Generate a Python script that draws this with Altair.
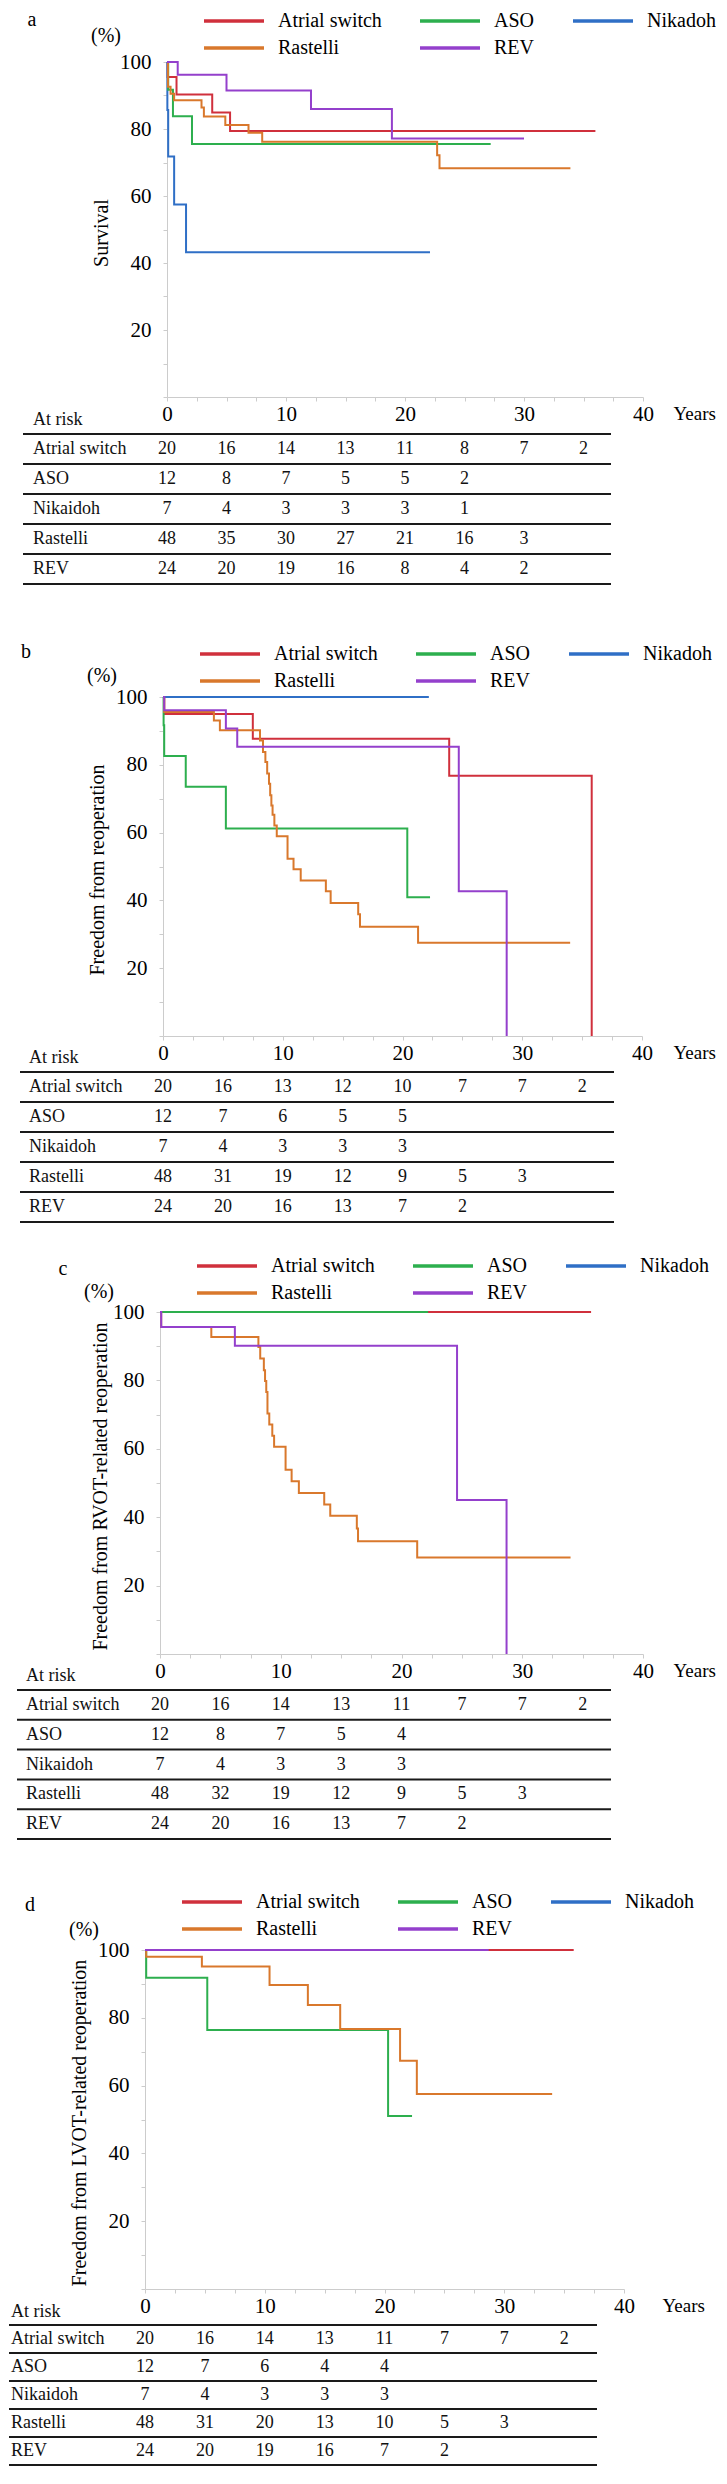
import altair as alt
import pandas as pd

FONT = "Liberation Serif"

# ---------------- series & colours ----------------
SERIES = ["Atrial switch", "ASO", "Nikadoh", "Rastelli", "REV"]
COLORS = ["#D0303C", "#2DAF4E", "#2F6FC6", "#D9782C", "#9440CC"]
DRAW_ORDER = ["Atrial switch", "Nikadoh", "ASO", "Rastelli", "REV"]

TABLE_ROWS = ["Atrial switch", "ASO", "Nikaidoh", "Rastelli", "REV"]
RISK_YEARS = [0, 5, 10, 15, 20, 25, 30, 35]

X_TICKS = [0, 2.5, 5, 7.5, 10, 12.5, 15, 17.5, 20, 22.5, 25, 27.5, 30, 32.5, 35, 37.5, 40]
Y_TICKS = [0, 10, 20, 30, 40, 50, 60, 70, 80, 90, 100]

# ---------------- panel a : survival ----------------
TIME_A = {
    "Atrial switch": [0, 0.05, 0.8, 3.8, 5.3, 36.0],
    "ASO": [0, 0.1, 0.5, 2.1, 27.2],
    "Nikadoh": [0, 0.03, 0.1, 0.6, 1.6, 22.1],
    "Rastelli": [0, 0.08, 0.3, 0.6, 2.9, 3.1, 4.9, 6.85, 8.0, 22.7, 22.9, 33.9],
    "REV": [0, 0.9, 5.0, 12.1, 18.9, 30.0],
}
SURV_A = {
    "Atrial switch": [100, 95.5, 90.3, 84.9, 79.4, 79.4],
    "ASO": [100, 91.7, 83.8, 75.5, 75.5],
    "Nikadoh": [100, 85.7, 71.8, 57.5, 43.2, 43.2],
    "Rastelli": [100, 92.6, 90.5, 88.6, 86.4, 83.7, 81.2, 78.9, 76.2, 72.2, 68.3, 68.3],
    "REV": [100, 96.2, 91.5, 86.0, 77.2, 77.2],
}
RISK_A = {
    "Atrial switch": [20, 16, 14, 13, 11, 8, 7, 2],
    "ASO": [12, 8, 7, 5, 5, 2],
    "Nikaidoh": [7, 4, 3, 3, 3, 1],
    "Rastelli": [48, 35, 30, 27, 21, 16, 3],
    "REV": [24, 20, 19, 16, 8, 4, 2],
}

# ---------------- panel b : freedom from reoperation ----------------
TIME_B = {
    "Atrial switch": [0, 0.1, 7.5, 23.9, 35.8],
    "ASO": [0, 0.05, 0.1, 1.9, 5.25, 20.4, 22.3],
    "Nikadoh": [0, 22.2],
    "Rastelli": [0, 0.1, 4.25, 4.75, 8.1, 8.35, 8.55, 8.7, 8.85, 8.95, 9.05, 9.15, 9.3,
                 9.5, 10.4, 10.9, 11.5, 13.6, 14.0, 16.3, 16.45, 21.3, 34.0],
    "REV": [0, 0.1, 5.25, 6.2, 24.7, 28.7],
}
SURV_B = {
    "Atrial switch": [100, 95.0, 87.7, 76.8, 0],
    "ASO": [100, 91.7, 82.6, 73.5, 61.2, 40.9, 40.9],
    "Nikadoh": [100, 100],
    "Rastelli": [100, 95.6, 93.1, 90.2, 87.2, 83.8, 80.8, 77.4, 74.4, 71.0, 68.0, 65.3, 62.1,
                 58.9, 52.3, 49.2, 45.9, 42.7, 39.2, 35.9, 32.2, 27.5, 27.5],
    "REV": [100, 96.1, 90.7, 85.3, 42.7, 0],
}
RISK_B = {
    "Atrial switch": [20, 16, 13, 12, 10, 7, 7, 2],
    "ASO": [12, 7, 6, 5, 5],
    "Nikaidoh": [7, 4, 3, 3, 3],
    "Rastelli": [48, 31, 19, 12, 9, 5, 3],
    "REV": [24, 20, 16, 13, 7, 2],
}

# ---------------- panel c : freedom from RVOT-related reoperation ----------------
TIME_C = {
    "Atrial switch": [0, 35.7],
    "ASO": [0, 22.2],
    "Nikadoh": [0, 22.2],
    "Rastelli": [0, 0.1, 4.25, 8.15, 8.3, 8.6, 8.7, 8.8, 8.9, 9.05, 9.3, 9.45, 10.4, 10.9,
                 11.5, 13.6, 14.1, 16.3, 16.4, 21.3, 34.0],
    "REV": [0, 0.1, 6.2, 24.6, 28.7],
}
SURV_C = {
    "Atrial switch": [100, 100],
    "ASO": [100, 100],
    "Nikadoh": [100, 100],
    "Rastelli": [100, 95.6, 92.7, 89.8, 86.4, 83.0, 79.8, 76.6, 70.3, 67.1, 63.8, 60.6, 53.9,
                 50.5, 47.1, 43.7, 40.4, 36.7, 33.0, 28.2, 28.2],
    "REV": [100, 95.6, 90.1, 45.0, 0],
}
RISK_C = {
    "Atrial switch": [20, 16, 14, 13, 11, 7, 7, 2],
    "ASO": [12, 8, 7, 5, 4],
    "Nikaidoh": [7, 4, 3, 3, 3],
    "Rastelli": [48, 32, 19, 12, 9, 5, 3],
    "REV": [24, 20, 16, 13, 7, 2],
}

# ---------------- panel d : freedom from LVOT-related reoperation ----------------
TIME_D = {
    "Atrial switch": [0, 35.8],
    "ASO": [0, 0.1, 5.2, 20.3, 22.3],
    "Nikadoh": [0, 22.2],
    "Rastelli": [0, 0.1, 4.75, 10.4, 13.6, 16.3, 21.3, 22.7, 34.0],
    "REV": [0, 28.7],
}
SURV_D = {
    "Atrial switch": [100, 100],
    "ASO": [100, 91.8, 76.4, 51.0, 51.0],
    "Nikadoh": [100, 100],
    "Rastelli": [100, 98.0, 95.1, 89.7, 83.8, 76.7, 67.3, 57.5, 57.5],
    "REV": [100, 100],
}
RISK_D = {
    "Atrial switch": [20, 16, 14, 13, 11, 7, 7, 2],
    "ASO": [12, 7, 6, 4, 4],
    "Nikaidoh": [7, 4, 3, 3, 3],
    "Rastelli": [48, 31, 20, 13, 10, 5, 3],
    "REV": [24, 20, 19, 16, 7, 2],
}

# ---------------- layout (pixels) ----------------
PANELS = [
    dict(letter="a", ytitle="Survival", time=TIME_A, surv=SURV_A, risk=RISK_A,
         off=22, w=476, h=335, tab_h=300, leg_y=-52, let_x=-135, let_y=-42, pct_y=-26,
         years_dx=30, ytitle_x=-60, t0=37, tstep=30, r0=-144, r1=444),
    dict(letter="b", ytitle="Freedom from reoperation", time=TIME_B, surv=SURV_B, risk=RISK_B,
         off=18, w=479, h=339, tab_h=276, leg_y=-54, let_x=-137, let_y=-45, pct_y=-21,
         years_dx=31, ytitle_x=-60, t0=36, tstep=30, r0=-143, r1=451),
    dict(letter="c", ytitle="Freedom from RVOT-related reoperation", time=TIME_C, surv=SURV_C,
         risk=RISK_C, off=15, w=483, h=342, tab_h=296, leg_y=-57, let_x=-97, let_y=-43,
         pct_y=-20, years_dx=30, ytitle_x=-54, t0=36, tstep=29.8, r0=-143, r1=451),
    dict(letter="d", ytitle="Freedom from LVOT-related reoperation", time=TIME_D, surv=SURV_D,
         risk=RISK_D, off=0, w=479, h=339, tab_h=176, leg_y=-59, let_x=-115, let_y=-45,
         pct_y=-20, years_dx=38, ytitle_x=-60, t0=36, tstep=28, r0=-136, r1=452),
]

LEGEND_LABELS = ("datum.label == 'ASO' || datum.label == 'REV' ? "
                 "datum.label + '\u00a0' : datum.label")


def km_chart(p):
    off, w, h = p["off"], p["w"], p["h"]
    xs = alt.Scale(domain=[0, 40], range=[off, off + w], nice=False, zero=False)
    ys = alt.Scale(domain=[0, 100], nice=False)
    cs = alt.Scale(domain=SERIES, range=COLORS)
    xaxis = alt.Axis(
        values=X_TICKS,
        labelExpr="datum.value % 10 == 0 ? datum.label : ''",
        labelOverlap=False, labelFlush=False, tickSize=4, labelPadding=2,
        title="Years", titleX=off + w + p["years_dx"], titleY=22.5,
        titleAlign="left", titleBaseline="alphabetic", titleFont=FONT,
        titleFontSize=19, titleFontWeight="normal", titleColor="#000",
    )
    yaxis = alt.Axis(
        values=Y_TICKS, offset=-off,
        labelExpr="datum.value > 0 && datum.value % 20 == 0 ? datum.label : ''",
        labelOverlap=False, labelFlush=False, tickSize=4, labelPadding=12,
        title=p["ytitle"], titleX=p["ytitle_x"], titleY=h / 2 + 3, titleAngle=270,
        titleAlign="center", titleBaseline="alphabetic", titleFont=FONT,
        titleFontSize=20, titleFontWeight="normal", titleColor="#000",
    )
    legend = alt.Legend(
        title=None, orient="none", legendX=off + 35, legendY=p["leg_y"],
        direction="horizontal", columns=3, symbolType="stroke", symbolSize=3600,
        symbolStrokeWidth=3.5, clipHeight=22, rowPadding=5, columnPadding=36,
        labelOffset=12, labelFont=FONT, labelFontSize=20, labelColor="#000",
        padding=0, labelLimit=300, labelExpr=LEGEND_LABELS,
    )
    layers = []
    for name in DRAW_ORDER:
        t = p["time"][name]
        s = p["surv"][name]
        df = pd.DataFrame({"t": t, "s": s, "g": [name] * len(t), "i": list(range(len(t)))})
        layers.append(
            alt.Chart(df).mark_line(interpolate="step-after", strokeWidth=2).encode(
                x=alt.X("t:Q", scale=xs, axis=xaxis),
                y=alt.Y("s:Q", scale=ys, axis=yaxis),
                color=alt.Color("g:N", scale=cs, legend=legend),
                order="i:Q",
            )
        )
    letter = alt.Chart(pd.DataFrame({"lab": [p["letter"]]})).mark_text(
        font=FONT, fontSize=20, align="center", baseline="middle", color="#000"
    ).encode(text="lab:N", x=alt.value(off + p["let_x"]), y=alt.value(p["let_y"]))
    pct = alt.Chart(pd.DataFrame({"lab": ["(%)"]})).mark_text(
        font=FONT, fontSize=20, align="center", baseline="middle", color="#000"
    ).encode(text="lab:N", x=alt.value(off - 61), y=alt.value(p["pct_y"]))
    return alt.layer(*layers, letter, pct).properties(width=off + w, height=h)


def table_chart(p):
    off, w = p["off"], p["w"]
    xs = alt.Scale(domain=[0, 40], range=[off, off + w], nice=False, zero=False)
    ys = alt.Scale(domain=[0, 5], range=[p["t0"], p["t0"] + 5 * p["tstep"]], nice=False, zero=False)
    rows = []
    for r, lab in enumerate(TABLE_ROWS):
        for k, n in enumerate(p["risk"][lab]):
            rows.append({"yr": RISK_YEARS[k], "n": n, "r": r + 0.5})
    nums = alt.Chart(pd.DataFrame(rows)).mark_text(
        font=FONT, fontSize=18, align="center", baseline="middle", color="#111"
    ).encode(
        x=alt.X("yr:Q", scale=xs, axis=None),
        y=alt.Y("r:Q", scale=ys, axis=None),
        text="n:Q",
    )
    labels_df = pd.DataFrame({"lab": ["At risk"] + TABLE_ROWS,
                              "r": [-0.47] + [r + 0.5 for r in range(len(TABLE_ROWS))]})
    labels = alt.Chart(labels_df).mark_text(
        font=FONT, fontSize=18, align="left", baseline="middle", color="#111"
    ).encode(
        x=alt.value(off - 134),
        y=alt.Y("r:Q", scale=ys, axis=None),
        text="lab:N",
    )
    rules = alt.Chart(pd.DataFrame({"r": [0, 1, 2, 3, 4, 5]})).mark_rule(
        color="#1a1a1a", strokeWidth=2
    ).encode(
        y=alt.Y("r:Q", scale=ys, axis=None),
        x=alt.value(off + p["r0"]),
        x2=alt.value(off + p["r1"]),
    )
    return alt.layer(rules, nums, labels).properties(width=off + w, height=p["tab_h"])


cells = []
for p in PANELS:
    cells.append(km_chart(p))
    cells.append(table_chart(p))

chart = (
    alt.vconcat(*cells, spacing=0, bounds="flush")
    .resolve_scale(x="independent", y="independent", color="independent")
    .resolve_legend(color="independent")
    .properties(padding={"left": 0, "top": 2, "right": 0, "bottom": 0})
    .configure_view(stroke=None)
    .configure_axis(
        labelFont=FONT, labelFontSize=21, labelColor="#000",
        domainColor="#CCCCCC", tickColor="#CCCCCC", domainWidth=1, tickWidth=1, grid=False,
    )
)

chart.save("out.html", embed_options={"renderer": "svg", "actions": False})
